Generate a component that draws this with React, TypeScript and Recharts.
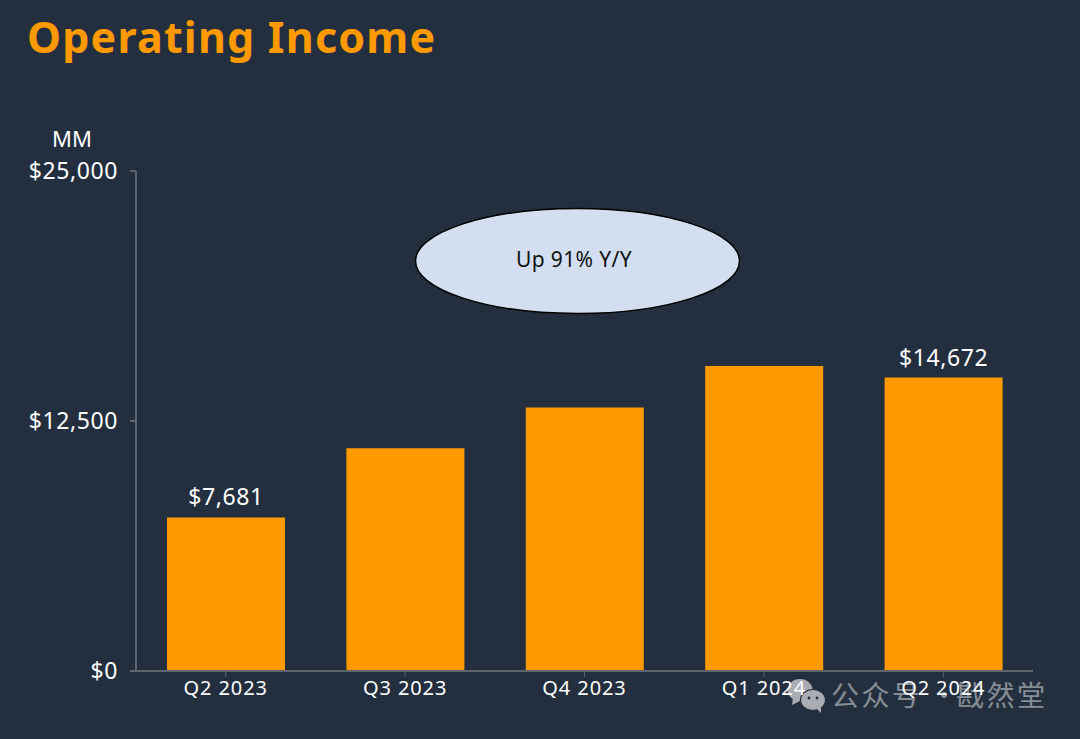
import { Bar, BarChart, LabelList, XAxis, YAxis } from "recharts";

const quarters = ["Q2 2023", "Q3 2023", "Q4 2023", "Q1 2024", "Q2 2024"];
const operatingIncome = [7681, 11140, 13170, 15250, 14672];
const barLabels = ["$7,681", "", "", "", "$14,672"];
const yTicks = [0, 12500, 25000];

const rows = quarters.map((quarter, i) => ({
  quarter,
  income: operatingIncome[i],
  label: barLabels[i],
}));

const FONT = '"Noto Sans", sans-serif';
const CJK_FONT = '"Noto Sans CJK SC", sans-serif';
const AXIS_GREY = "#5f656c";

const formatDollars = (v: number) => "$" + v.toLocaleString("en-US");

const WeChatMark = () => (
  <g fill="#a9adb3">
    <ellipse cx={800} cy={690} rx={12.5} ry={11} />
    <path d="M793 698 L792 705 L800 701 Z" />
    <ellipse cx={813} cy={700} rx={12.5} ry={10.5} stroke="#232f3e" strokeWidth={1.2} />
    <path d="M816 708 L821 713 L821 704 Z" />
    <circle cx={809} cy={698} r={1.4} fill="#232f3e" />
    <circle cx={817} cy={698} r={1.4} fill="#232f3e" />
  </g>
);

export default function App() {
  return (
    <div
      style={{
        position: "absolute",
        left: 0,
        top: 0,
        width: 1080,
        height: 739,
        background: "#232f3e",
        overflow: "hidden",
        fontFamily: FONT,
      }}
    >
      <BarChart
        width={1080}
        height={739}
        data={rows}
        margin={{ top: 171, right: 47, bottom: 0, left: 0 }}
      >
        <XAxis
          dataKey="quarter"
          height={68}
          stroke={AXIS_GREY}
          strokeWidth={2}
          tickSize={6}
          tickLine={{ stroke: AXIS_GREY, strokeWidth: 1 }}
          tick={{ fill: "#ffffff", fontSize: 20, letterSpacing: 0.9, fontFamily: FONT }}
          tickMargin={4}
        />
        <YAxis
          width={136}
          domain={[0, 25000]}
          ticks={yTicks}
          stroke={AXIS_GREY}
          strokeWidth={2}
          tickSize={6}
          tick={{ fill: "#ffffff", fontSize: 23, letterSpacing: 0.6, fontFamily: FONT }}
          tickMargin={12}
          tickFormatter={formatDollars}
        />
        <Bar dataKey="income" fill="#ff9900" barSize={118} isAnimationActive={false}>
          <LabelList
            dataKey="label"
            position="top"
            offset={12}
            fill="#ffffff"
            fontSize={23}
            letterSpacing={0.6}
            fontFamily={FONT}
          />
        </Bar>
        <text x={27} y={53} fill="#ff9900" fontSize={43} fontWeight={700} letterSpacing={1.2} fontFamily={FONT}>
          Operating Income
        </text>
        <text x={72} y={147} fill="#ffffff" fontSize={22} fontFamily={FONT} textAnchor="middle">
          MM
        </text>
        <ellipse cx={577.5} cy={261} rx={162} ry={52.5} fill="#d3dff0" stroke="#000000" strokeWidth={1.5} />
        <text x={574} y={267} fill="#0f1111" fontSize={21} letterSpacing={0.4} fontFamily={FONT} textAnchor="middle">
          Up 91% Y/Y
        </text>
        <WeChatMark />
        <text y={706} fill="#ffffff" opacity={0.45} fontSize={28} letterSpacing={2.5} fontFamily={CJK_FONT}>
          <tspan x={831}>公众号</tspan>
          <tspan x={930}>·</tspan>
          <tspan x={956}>戡然堂</tspan>
        </text>
      </BarChart>
    </div>
  );
}
